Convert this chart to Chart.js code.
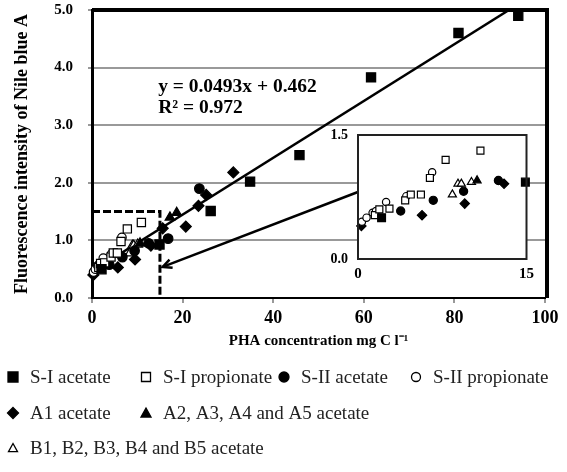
<!DOCTYPE html>
<html>
<head>
<meta charset="utf-8">
<script src="https://cdn.jsdelivr.net/npm/chart.js@4/dist/chart.umd.min.js"></script>
<style>
html, body { margin:0; padding:0; background:#fff; }
#wrap { position:relative; width:567px; height:472px; overflow:hidden; }
#main { position:absolute; left:0; top:0; }
#inset { position:absolute; left:325px; top:125px; }
</style>
</head>
<body>
<div id="wrap">
  <canvas id="main" width="567" height="472"></canvas>
  <canvas id="inset" width="215" height="160"></canvas>
</div>
<script>
// values, [PHA mg C/l, fluorescence A]
var s1Acetate = [[2.1,0.50],[14.9,0.93],[26.2,1.51],[34.9,2.02],[45.8,2.48],[61.6,3.83],[80.9,4.60],[94.1,4.90]];
var s1Propionate = [[1.5,0.53],[1.9,0.60],[2.8,0.61],[4.2,0.71],[4.7,0.78],[5.6,0.78],[6.4,0.98],[7.8,1.20],[10.9,1.31]];
var s2Acetate = [[3.8,0.58],[6.7,0.71],[9.4,0.82],[12.5,0.95],[16.8,1.03],[23.7,1.90]];
var s2Propionate = [[0.35,0.45],[0.76,0.50],[1.3,0.56],[1.6,0.58],[2.5,0.69],[4.3,0.76],[6.6,1.05]];
var a1Acetate = [[0.3,0.40],[5.7,0.53],[9.5,0.67],[13.0,0.91],[15.6,1.21],[20.7,1.24],[23.5,1.60],[25.2,1.79],[31.2,2.18]];
var aGroupAcetate = [[10.6,0.95],[17.2,1.40],[18.7,1.48]];
var bGroupAcetate = [[8.4,0.78],[8.9,0.91],[9.2,0.91],[10.1,0.93]];

var seriesNames = ['S-I acetate', 'S-I propionate', 'S-II acetate', 'S-II propionate',
                   'A1 acetate', 'A2, A3, A4 and A5 acetate', 'B1, B2, B3, B4 and B5 acetate'];

// fitted line shown in the figure
var slope = 0.0493, intercept = 0.462, r2 = 0.972;
var trendX = [0, 92.05];

var xTicksMain = [0, 20, 40, 60, 80, 100];
var yTicksMain = [0, 1, 2, 3, 4, 5];
var xTicksInset = [0, 15];
var yTicksInset = [0, 1.5];
var zoomBox = [15, 1.5];                  // region blown up in the inset
var arrowFrom = [58.7, 1.84], arrowTo = [15.6, 0.54];
var eqAt = [14.6, 3.67, 3.30];

var serif = "'Liberation Serif', 'Times New Roman', serif";

var looks = [
  {style:'rect', fill:true, r:6.5},
  {style:'rect', fill:false, r:5.8},
  {style:'circle', fill:true, r:4.8},
  {style:'circle', fill:false, r:4.3},
  {style:'rectRot', fill:true, r:5.5},
  {style:'triangle', fill:true, r:5.5},
  {style:'triangle', fill:false, r:5.5}
];
var allData = [s1Acetate, s1Propionate, s2Acetate, s2Propionate, a1Acetate, aGroupAcetate, bGroupAcetate];

function pts(a) {
  return a.map(function(p) { return {x:p[0], y:p[1]}; });
}

function makeSets(k) {
  return allData.map(function(d, i) {
    var lk = looks[i];
    return {
      type: 'scatter',
      label: seriesNames[i],
      data: pts(d),
      pointStyle: lk.style,
      pointRadius: lk.r * k,
      pointBackgroundColor: lk.fill ? '#000' : '#fff',
      pointBorderColor: '#000',
      pointBorderWidth: 1.2,
      clip: 6
    };
  });
}

function fixTicks(vals) {
  return function(scale) {
    scale.ticks = vals.map(function(v) { return {value:v}; });
  };
}

function marker(ctx, style, filled, x, y, r) {
  ctx.beginPath();
  if (style == 'rect') {
    ctx.rect(x - r, y - r, 2 * r, 2 * r);
  } else if (style == 'circle') {
    ctx.arc(x, y, r, 0, Math.PI * 2);
  } else if (style == 'rectRot') {
    ctx.moveTo(x, y - r * 1.1); ctx.lineTo(x + r * 1.1, y); ctx.lineTo(x, y + r * 1.1); ctx.lineTo(x - r * 1.1, y);
    ctx.closePath();
  } else {
    ctx.moveTo(x, y - r); ctx.lineTo(x + r, y + r * 0.8); ctx.lineTo(x - r, y + r * 0.8);
    ctx.closePath();
  }
  ctx.fillStyle = filled ? '#000' : '#fff';
  ctx.fill();
  ctx.lineWidth = 1.3;
  ctx.strokeStyle = '#000';
  ctx.stroke();
}

// legend laid out in three rows like the original
var legendRows = [[0, 1, 2, 3], [4, 5], [6]];
var legendX = [[13, 146, 284, 416], [13, 146], [13]];
var legendY = [377, 413, 448];

var mainDecor = {
  id: 'mainDecor',
  afterDatasetsDraw: function(chart) {
    var ctx = chart.ctx, xs = chart.scales.x, ys = chart.scales.y, a = chart.chartArea;
    ctx.save();
    // dashed zoom box
    ctx.setLineDash([8, 3]);
    ctx.lineWidth = 3;
    ctx.strokeStyle = '#000';
    ctx.beginPath();
    ctx.moveTo(xs.getPixelForValue(0), ys.getPixelForValue(zoomBox[1]));
    ctx.lineTo(xs.getPixelForValue(zoomBox[0]), ys.getPixelForValue(zoomBox[1]));
    ctx.lineTo(xs.getPixelForValue(zoomBox[0]), ys.getPixelForValue(0));
    ctx.stroke();
    ctx.setLineDash([]);

    // arrow to the zoom box
    var x1 = xs.getPixelForValue(arrowFrom[0]), y1 = ys.getPixelForValue(arrowFrom[1]);
    var x2 = xs.getPixelForValue(arrowTo[0]), y2 = ys.getPixelForValue(arrowTo[1]);
    var ang = Math.atan2(y2 - y1, x2 - x1);
    ctx.lineWidth = 2.5;
    ctx.beginPath();
    ctx.moveTo(x1, y1);
    ctx.lineTo(x2, y2);
    ctx.stroke();
    ctx.beginPath();
    ctx.moveTo(x2 - 10 * Math.cos(ang - 0.45), y2 - 10 * Math.sin(ang - 0.45));
    ctx.lineTo(x2, y2);
    ctx.lineTo(x2 - 10 * Math.cos(ang + 0.45), y2 - 10 * Math.sin(ang + 0.45));
    ctx.stroke();

    // heavy frame on top and right
    ctx.lineWidth = 4;
    ctx.beginPath();
    ctx.moveTo(a.left, a.top);
    ctx.lineTo(a.right + 2, a.top);
    ctx.lineTo(a.right + 2, a.bottom);
    ctx.stroke();

    // equation
    ctx.fillStyle = '#000';
    ctx.font = 'bold 19.5px ' + serif;
    ctx.textAlign = 'left';
    ctx.textBaseline = 'middle';
    ctx.fillText('y = ' + slope + 'x + ' + intercept, xs.getPixelForValue(eqAt[0]), ys.getPixelForValue(eqAt[1]), 162);
    ctx.fillText('R\u00b2 = ' + r2, xs.getPixelForValue(eqAt[0]), ys.getPixelForValue(eqAt[2]));
    ctx.restore();
  },
  afterDraw: function(chart) {
    var ctx = chart.ctx;
    ctx.save();
    ctx.font = '19px ' + serif;
    ctx.textBaseline = 'middle';
    ctx.textAlign = 'left';
    legendRows.forEach(function(row, ri) {
      row.forEach(function(si, k) {
        var lk = looks[si];
        var mx = legendX[ri][k], my = legendY[ri];
        var r = lk.fill ? 5 : 4.5;
        marker(ctx, lk.style, lk.fill, mx, my, r);
        ctx.fillStyle = '#222';
        ctx.fillText(seriesNames[si], mx + 17, my + 1);
      });
    });
    ctx.restore();
  }
};

var mainSets = makeSets(1);
mainSets.push({
  type: 'line',
  label: 'fit',
  data: trendX.map(function(x) { return {x:x, y:slope * x + intercept}; }),
  borderColor: '#000',
  borderWidth: 2.5,
  pointRadius: 0,
  order: 1
});

new Chart('main', {
  type: 'scatter',
  data: { datasets: mainSets },
  options: {
    responsive: false,
    animation: false,
    layout: { padding: {left:4, top:10, right:22, bottom:120} },
    plugins: { legend: {display:false}, tooltip: {enabled:false} },
    scales: {
      x: {
        type: 'linear', min: 0, max: 100,
        afterBuildTicks: fixTicks(xTicksMain),
        afterFit: function(s) { s.height = 54; },
        grid: { drawOnChartArea:false, drawTicks:true, tickLength:5, color:'#999', lineWidth:2 },
        border: { color:'#000', width:2 },
        ticks: { color:'#000', padding:5, font:{family:serif, size:18, weight:'bold'} },
        title: { display:true, text:'PHA concentration mg C l\u207b\u00b9', color:'#000', padding:{top:0, bottom:2},
                 font:{family:serif, size:15, weight:'bold'} }
      },
      y: {
        min: 0, max: 5,
        afterBuildTicks: fixTicks(yTicksMain),
        afterFit: function(s) { s.width = 88; s.paddingTop = 8; s.paddingBottom = 8; },
        grid: { color:'#999', lineWidth:2, tickLength:4 },
        border: { color:'#000', width:3 },
        ticks: { color:'#000', padding:15, font:{family:serif, size:15, weight:'bold'},
                 callback: function(v) { return v.toFixed(1); } },
        title: { display:true, text:'Fluorescence intensity of Nile blue A', color:'#000', padding:{top:8, bottom:4},
                 font:{family:serif, size:18, weight:'bold'} }
      }
    }
  },
  plugins: [mainDecor]
});

var insetFrame = {
  id: 'insetFrame',
  beforeDatasetsDraw: function(chart) {
    var a = chart.chartArea, ctx = chart.ctx;
    ctx.save();
    ctx.fillStyle = '#fff';
    ctx.fillRect(a.left, a.top, a.right - a.left, a.bottom - a.top);
    ctx.restore();
  },
  afterDraw: function(chart) {
    var a = chart.chartArea, ctx = chart.ctx;
    ctx.save();
    ctx.lineWidth = 2;
    ctx.strokeStyle = '#222';
    ctx.strokeRect(a.left, a.top, a.right - a.left, a.bottom - a.top);
    ctx.restore();
  }
};

var inset = new Chart('inset', {
  type: 'scatter',
  data: { datasets: makeSets(0.85) },
  options: {
    responsive: false,
    animation: false,
    layout: { padding: {left:0, top:10, right:9, bottom:0} },
    plugins: { legend: {display:false}, tooltip: {enabled:false} },
    scales: {
      x: {
        type: 'linear', min: 0, max: 15,
        afterBuildTicks: fixTicks(xTicksInset),
        afterFit: function(s) { s.height = 26; },
        grid: { display:false, drawTicks:false, tickLength:0 },
        border: { display:false },
        ticks: { color:'#000', padding:6, font:{family:serif, size:15, weight:'bold'} }
      },
      y: {
        min: 0, max: 1.5,
        afterBuildTicks: fixTicks(yTicksInset),
        afterFit: function(s) { s.width = 33; s.paddingTop = 0; s.paddingBottom = 0; },
        grid: { display:false, drawTicks:false, tickLength:0 },
        border: { display:false },
        ticks: { color:'#000', padding:10, font:{family:serif, size:14, weight:'bold'},
                 callback: function(v) { return v.toFixed(1); } }
      }
    }
  },
  plugins: [insetFrame]
});

// put the inset plot box where it sits in the original (358,135)
var ia = inset.chartArea, ic = document.getElementById('inset');
ic.style.left = (358 - ia.left) + 'px';
ic.style.top = (135 - ia.top) + 'px';
</script>
</body>
</html>
